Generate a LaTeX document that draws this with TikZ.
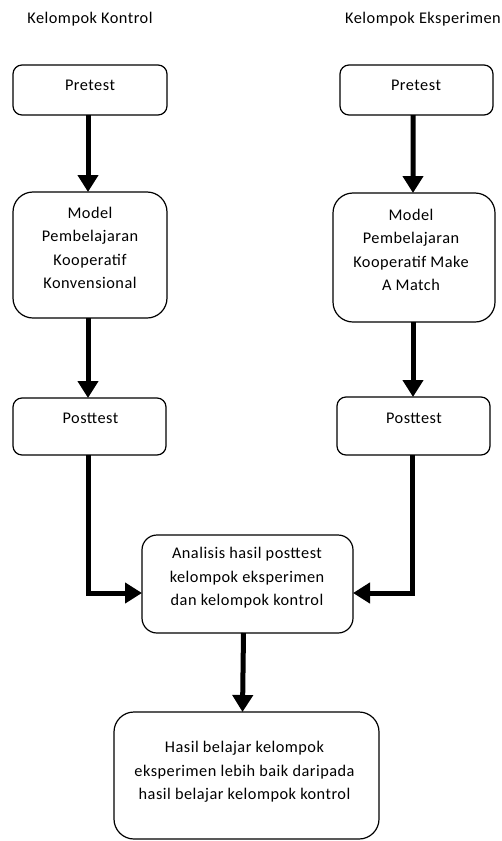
\documentclass[tikz,border=0pt]{standalone}
\usepackage{fontspec}
\setmainfont{Carlito}[LetterSpace=3]
\usetikzlibrary{arrows.meta}
\begin{document}
\begin{tikzpicture}[x=1bp,y=-1bp,
  box/.style={draw=black, line width=1.2bp, inner sep=0pt, outer sep=0pt},
  txt/.style={font=\fontsize{16.3bp}{23.5bp}\selectfont, align=center, inner sep=0pt},
  flow/.style={line width=5bp, -{Triangle[length=17bp,width=20bp]}},
]
\useasboundingbox (0,0) rectangle (502,841);
% headings
\node[txt] (hL) at (90,19) {Kelompok Kontrol};
\node[txt, anchor=east] (hR) at (501,19) {Kelompok Eksperimen};
% boxes
\node[box, rounded corners=9bp, minimum width=154bp, minimum height=50bp] (preL) at (90,90) {};
\node[box, rounded corners=9bp, minimum width=153bp, minimum height=50bp] (preR) at (416.5,90) {};
\node[box, rounded corners=20bp, minimum width=154bp, minimum height=126bp] (modL) at (90,255) {};
\node[box, rounded corners=20bp, minimum width=162bp, minimum height=129bp] (modR) at (414,257.5) {};
\node[box, rounded corners=9bp, minimum width=153bp, minimum height=57bp] (postL) at (89.5,426.5) {};
\node[box, rounded corners=9bp, minimum width=153bp, minimum height=58bp] (postR) at (413.5,426) {};
\node[box, rounded corners=15bp, minimum width=211bp, minimum height=98bp] (ana) at (247.5,584) {};
\node[box, rounded corners=20bp, minimum width=265bp, minimum height=127bp] (fin) at (246.5,775.5) {};
% texts
\node[txt] (preLt) at (90,85) {Pretest};
\node[txt] (preRt) at (416,85) {Pretest};
\node[txt] (modLt) at (90,248) {Model\\Pembelajaran\\Kooperatif\\Konvensional};
\node[txt] (modRt) at (411,250) {Model\\Pembelajaran\\Kooperatif  Make\\A Match};
\node[txt] (postLt) at (90.5,418) {Posttest};
\node[txt] (postRt) at (414,418) {Posttest};
\node[txt] (anat) at (247,578) {Analisis  hasil posttest\\kelompok eksperimen\\dan kelompok kontrol};
\node[txt] (fint) at (244.5,772) {Hasil belajar kelompok\\eksperimen lebih baik daripada\\hasil belajar kelompok  kontrol};
% connectors
\draw[flow] ([xshift=-2bp]preL.south) -- ([xshift=-2bp]modL.north);
\draw[flow] ([xshift=-3.5bp]preR.south) -- ([xshift=-1bp]modR.north);
\draw[flow] ([xshift=-2bp]modL.south) -- ([xshift=-1.5bp]postL.north);
\draw[flow] ([xshift=-1bp]modR.south) -- ([xshift=-0.5bp]postR.north);
\draw[flow] ([xshift=-1.5bp]postL.south) |- ([yshift=-9bp]ana.west);
\draw[flow] ([xshift=-1.5bp]postR.south) |- ([yshift=-9bp]ana.east);
\draw[flow] ([xshift=-4bp]ana.south) -- ([xshift=-4bp]fin.north);
\end{tikzpicture}
\end{document}
